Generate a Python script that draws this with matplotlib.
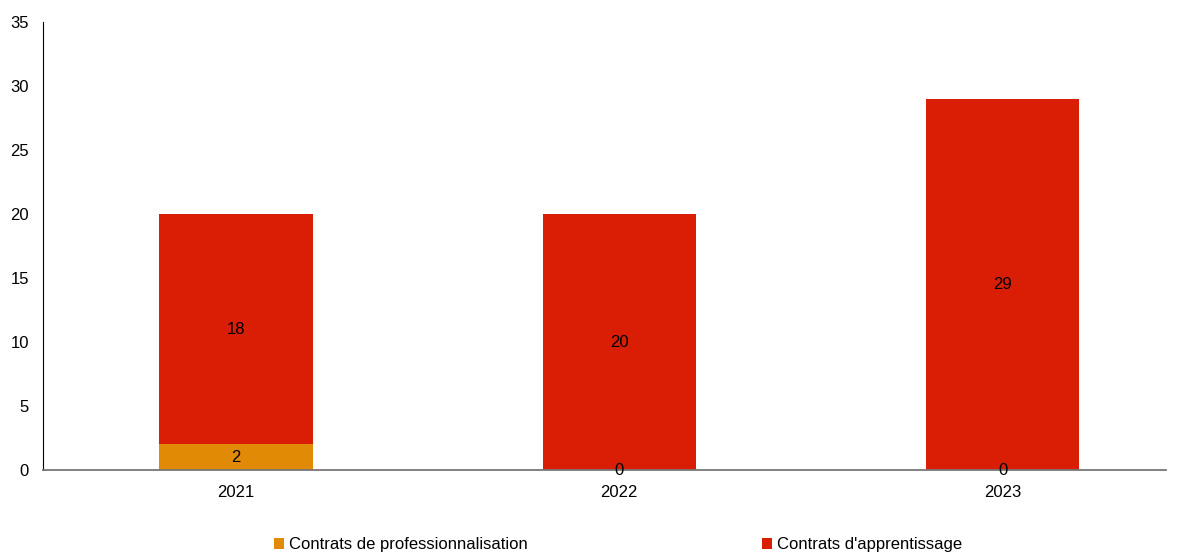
import matplotlib.pyplot as plt
import numpy as np

plt.rcParams['font.family'] = ['Liberation Sans', 'DejaVu Sans']

annees = ['2021', '2022', '2023']
pro = [2, 0, 0]
apprentissage = [18, 20, 29]

couleur_pro = '#E08A05'
couleur_app = '#D91E05'

fig = plt.figure(figsize=(11.81, 5.53), dpi=100)
ax = fig.add_axes([0.0364, 0.150, 0.9505, 0.810])

x = np.arange(len(annees))
b1 = ax.bar(x, pro, width=0.40, color=couleur_pro, label='Contrats de professionnalisation')
b2 = ax.bar(x, apprentissage, width=0.40, bottom=pro, color=couleur_app, label="Contrats d'apprentissage")

ax.bar_label(b1, labels=[str(v) for v in pro], label_type='center', fontsize=12)
ax.bar_label(b2, labels=[str(v) for v in apprentissage], label_type='center', fontsize=12)

ax.set_xlim(-0.503, 2.425)
ax.set_ylim(0, 35)
ax.set_yticks(range(0, 36, 5))
ax.set_xticks(x)
ax.set_xticklabels(annees)
ax.tick_params(length=0, labelsize=12)
ax.tick_params(axis='x', pad=11)
ax.tick_params(axis='y', pad=10)

ax.spines['top'].set_visible(False)
ax.spines['right'].set_visible(False)
ax.spines['left'].set_color('black')
ax.spines['bottom'].set_color('#777777')
ax.spines['bottom'].set_linewidth(1.3)

fig.legend(handles=[b1, b2], loc='lower left', bbox_to_anchor=(0.219, -0.026), ncol=2,
           frameon=False, fontsize=12, handlelength=0.6, handleheight=0.6,
           handletextpad=0.3, columnspacing=14.05)

fig.savefig('out.png', dpi=100)
